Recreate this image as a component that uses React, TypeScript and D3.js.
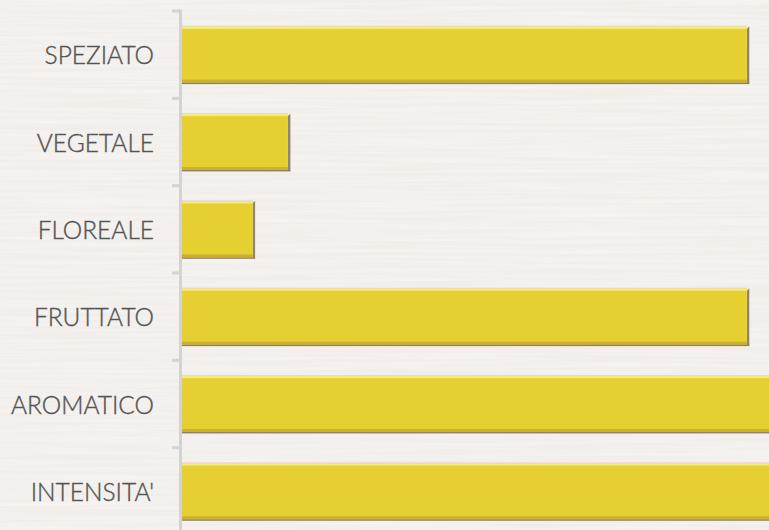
import React from "react";
import * as d3 from "d3";

const categories = ["SPEZIATO", "VEGETALE", "FLOREALE", "FRUTTATO", "AROMATICO", "INTENSITA'"];
const values = [8, 1.5, 1, 8, 9, 9];
const xDomain = [0, 10];

const W = 769;
const H = 530;

export default function App() {
  const y = d3.scaleBand<string>().domain(categories).range([11, 535]).padding(0);
  const x = d3.scaleLinear().domain(xDomain).range([182, 888]);
  const step = y.step();
  const barH = step * 0.642;
  const off = (step - barH) / 2;
  const boundaries = categories.map((c) => y(c)!).concat([y.range()[1]]);
  const axisX = 180.5;

  return (
    <svg
      width={W}
      height={H}
      style={{ position: "absolute", left: 0, top: 0, display: "block" }}
      fontFamily="Lato, 'Liberation Sans', sans-serif"
    >
      <defs>
        <filter id="paper" x="0" y="0" width="100%" height="100%">
          <feTurbulence type="fractalNoise" baseFrequency="0.006 0.3" numOctaves="3" seed="4" result="n" />
          <feColorMatrix
            in="n"
            type="matrix"
            values="0 0 0 0 1  0 0 0 0 1  0 0 0 0 1  0 0 0 -1.4 0.95"
          />
        </filter>
        <clipPath id="clip">
          <rect x={0} y={0} width={W} height={H} />
        </clipPath>
      </defs>
      <rect x={0} y={0} width={W} height={H} fill="#f1eeea" />
      <rect x={0} y={0} width={W} height={H} filter="url(#paper)" opacity={0.5} />

      <g clipPath="url(#clip)">
        <line x1={axisX} x2={axisX} y1={boundaries[0] - 1.5} y2={boundaries[boundaries.length - 1]} stroke="#d3d3d3" strokeWidth={3} />
        {boundaries.map((b, i) => (
          <line key={i} x1={172} x2={axisX} y1={b} y2={b} stroke="#d3d3d3" strokeWidth={3} />
        ))}

        {categories.map((c, i) => {
          const y0 = y(c)! + off;
          const x0 = x(0);
          const x1 = x(values[i]);
          const w = x1 - x0;
          return (
            <g key={c}>
              <rect x={x0} y={y0 - 1} width={w} height={1} fill="#f2d3c4" />
              <polygon
                points={`${x1},${y0 + 2} ${x1 + 2.5},${y0 - 0.5} ${x1 + 2.5},${y0 + barH + 1} ${x1},${y0 + barH + 1}`}
                fill="#8d857b"
              />
              <rect x={x0} y={y0} width={w} height={barH} fill="#e6cf30" />
              <rect x={x0} y={y0} width={w} height={2.2} fill="#f6ee74" />
              <rect x={x0} y={y0 + barH - 3} width={w} height={3} fill="#c9b03a" />
              <rect x={x0} y={y0 + barH} width={w + 2.5} height={1.4} fill="#8e7d73" />
              <text
                x={154}
                y={y(c)! + step / 2}
                textAnchor="end"
                dominantBaseline="central"
                fontSize={24.5}
                fontWeight={300}
                fill="#555555"
                stroke="#555555"
                strokeWidth={0.4}
              >
                {c}
              </text>
            </g>
          );
        })}
      </g>
    </svg>
  );
}
